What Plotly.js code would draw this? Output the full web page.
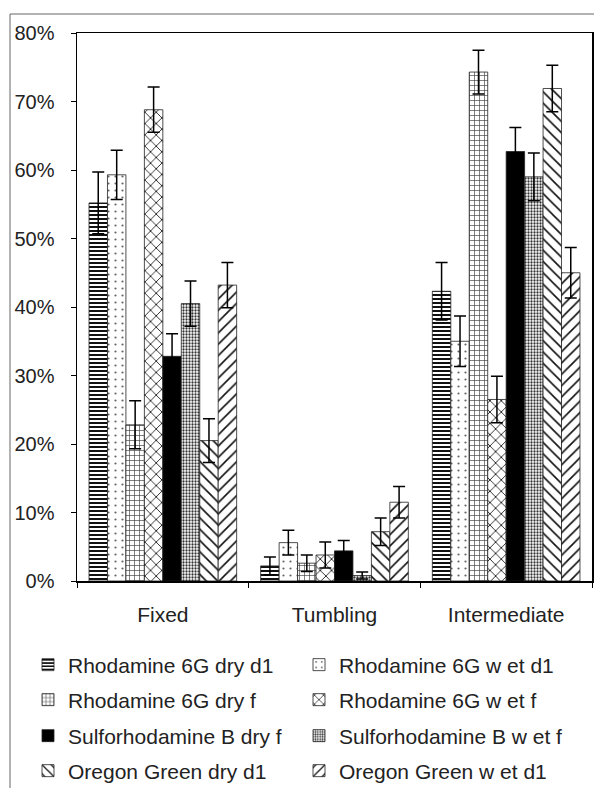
<!DOCTYPE html>
<html>
<head>
<meta charset="utf-8">
<script src="https://cdn.plot.ly/plotly-3.0.1.min.js"></script>
<style>html,body{margin:0;padding:0;background:#fff}</style>
</head>
<body>
<div id="chart" style="width:594px;height:788px"></div>
<script>
// Fluorescence fraction by motion class, per dye / preparation
const categories = ['Fixed', 'Tumbling', 'Intermediate'];

const r6gDryD1 = [55.2, 2.2, 42.3];
const r6gDryD1Err = [4.5, 1.3, 4.2];
const r6gWetD1 = [59.3, 5.6, 35.0];
const r6gWetD1Err = [3.6, 1.8, 3.7];
const r6gDryF = [22.8, 2.6, 74.3];
const r6gDryFErr = [3.5, 1.2, 3.2];
const r6gWetF = [68.8, 3.8, 26.5];
const r6gWetFErr = [3.3, 1.9, 3.4];
const srbDryF = [32.8, 4.4, 62.7];
const srbDryFErr = [3.3, 1.5, 3.5];
const srbWetF = [40.5, 0.8, 59.0];
const srbWetFErr = [3.3, 0.5, 3.5];
const ogDryD1 = [20.5, 7.2, 71.9];
const ogDryD1Err = [3.2, 2.0, 3.4];
const ogWetD1 = [43.2, 11.5, 45.0];
const ogWetD1Err = [3.3, 2.3, 3.7];

const yTicks = [0, 10, 20, 30, 40, 50, 60, 70, 80];

const FONT = 'Liberation Sans, Arial, sans-serif';

function barTrace(name, y, err, pattern, legendId, color) {
  return {
    type: 'bar',
    name: name,
    x: categories,
    y: y,
    legend: legendId,
    marker: {
      color: color || '#ffffff',
      line: {color: '#222', width: 0.8},
      pattern: pattern
    },
    error_y: {type: 'data', array: err, visible: true, color: '#000', thickness: 1.5, width: 6}
  };
}

const traces = [
  barTrace('Rhodamine 6G dry d1', r6gDryD1, r6gDryD1Err,
    {shape: '-', size: 4, solidity: 0.5, fgcolor: '#111', bgcolor: '#fff'}, 'legend'),
  barTrace('Rhodamine 6G w et d1', r6gWetD1, r6gWetD1Err,
    {shape: '.', size: 7, solidity: 0.08, fgcolor: '#666', bgcolor: '#fff'}, 'legend'),
  barTrace('Rhodamine 6G dry f', r6gDryF, r6gDryFErr,
    {shape: '+', size: 5, solidity: 0.25, fgcolor: '#444', bgcolor: '#fff'}, 'legend2'),
  barTrace('Rhodamine 6G w et f', r6gWetF, r6gWetFErr,
    {shape: 'x', size: 8, solidity: 0.2, fgcolor: '#111', bgcolor: '#fff'}, 'legend2'),
  barTrace('Sulforhodamine B dry f', srbDryF, srbDryFErr,
    {shape: '', fgcolor: '#000', bgcolor: '#000'}, 'legend3', '#000000'),
  barTrace('Sulforhodamine B w et f', srbWetF, srbWetFErr,
    {shape: '.', size: 3, solidity: 0.45, fgcolor: '#333', bgcolor: '#fff'}, 'legend3'),
  barTrace('Oregon Green dry d1', ogDryD1, ogDryD1Err,
    {shape: '\\', size: 8, solidity: 0.2, fgcolor: '#111', bgcolor: '#fff'}, 'legend4'),
  barTrace('Oregon Green w et d1', ogWetD1, ogWetD1Err,
    {shape: '/', size: 8, solidity: 0.2, fgcolor: '#111', bgcolor: '#fff'}, 'legend4')
];

// plot area: x 77..592, y 33..581 (px)
const plotL = 77, plotW = 515, plotB = 581, plotH = 548;
const px2x = p => (p - plotL) / plotW;
const px2y = p => (plotB - p) / plotH;

function legendRow(yPx) {
  return {
    orientation: 'h',
    x: px2x(28), xanchor: 'left',
    y: px2y(yPx), yanchor: 'middle',
    entrywidth: 226, entrywidthmode: 'pixels',
    bgcolor: 'rgba(0,0,0,0)',
    borderwidth: 0,
    font: {family: FONT, size: 21, color: '#222'},
    traceorder: 'normal'
  };
}

const layout = {
  width: 594,
  height: 788,
  margin: {l: 77, r: 2, t: 33, b: 207, autoexpand: false},
  paper_bgcolor: '#fff',
  plot_bgcolor: '#fff',
  font: {family: FONT, color: '#222'},
  barmode: 'group',
  bargap: 0.14,
  bargroupgap: 0,
  xaxis: {
    type: 'category',
    tickson: 'boundaries',
    ticks: 'outside',
    ticklen: 5,
    tickcolor: '#000',
    showline: true,
    linecolor: '#000',
    linewidth: 1.5,
    mirror: true,
    showgrid: false,
    tickfont: {family: FONT, size: 21, color: '#222'},
    ticklabelstandoff: 14
  },
  yaxis: {
    range: [0, 80],
    tickvals: yTicks,
    ticktext: yTicks.map(v => v + '%'),
    ticks: 'outside',
    ticklen: 5,
    tickcolor: '#000',
    showline: true,
    linecolor: '#000',
    linewidth: 1.5,
    mirror: true,
    showgrid: false,
    zeroline: false,
    tickfont: {family: FONT, size: 20, color: '#222'},
    ticklabelstandoff: 12
  },
  showlegend: true,
  legend: legendRow(665),
  legend2: legendRow(700),
  legend3: legendRow(736),
  legend4: legendRow(771),
  shapes: [{
    type: 'rect', xref: 'paper', yref: 'paper',
    x0: px2x(10), x1: px2x(620), y0: px2y(820), y1: px2y(14),
    line: {color: '#666', width: 1}
  }]
};

Plotly.newPlot('chart', traces, layout, {displayModeBar: false, staticPlot: true});
</script>
</body>
</html>
